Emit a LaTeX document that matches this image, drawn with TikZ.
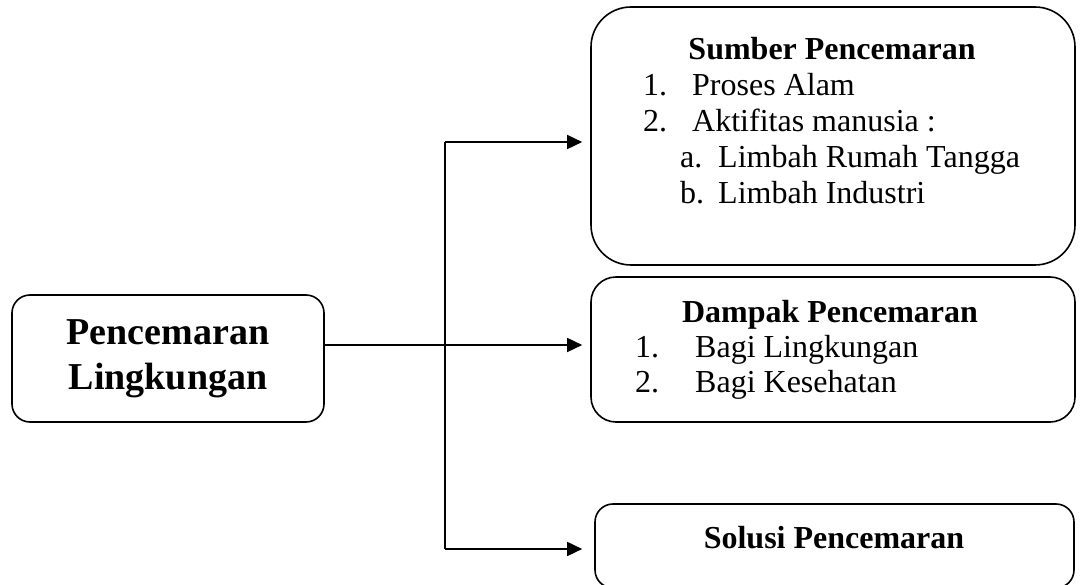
\documentclass[tikz,border=0pt]{standalone}
\usepackage{fontspec}
\setmainfont{Liberation Serif}
\usetikzlibrary{arrows.meta}
\begin{document}
\begin{tikzpicture}[x=1pt,y=-1pt,
  box/.style={draw, line width=1.6pt, inner sep=0pt},
  conn/.style={line width=1.6pt},
  arr/.style={line width=1.6pt, -{Triangle[length=15pt,width=14pt]}},
  txt/.style={inner sep=0pt, anchor=base west, font=\fontsize{32}{36}\selectfont},
  ttl/.style={inner sep=0pt, anchor=base, font=\fontsize{32}{36}\selectfont\bfseries}]
\useasboundingbox (0,0) rectangle (1080,585);
% boxes
\node[box, rounded corners=18pt, minimum width=312pt, minimum height=127pt,
      align=center, font=\fontsize{38}{45}\selectfont\bfseries] (L) at (168,358.5) {Pencemaran\\Lingkungan};
\node[box, rounded corners=40pt, minimum width=484pt, minimum height=258pt] (S) at (833,136) {};
\node[box, rounded corners=25pt, minimum width=484pt, minimum height=145pt] (D) at (833,349.5) {};
\node[box, rounded corners=18pt, minimum width=479pt, minimum height=84pt] (P) at (834.5,546) {};
% texts top
\node[ttl] (s0) at (832,60) {Sumber Pencemaran};
\node[txt] (s1n) at (643,96) {1.};
\node[txt] (s1) at (692,96) {Proses Alam};
\node[txt] (s2n) at (643,132) {2.};
\node[txt] (s2) at (692,132) {Aktifitas manusia :};
\node[txt] (s3n) at (680,168) {a.};
\node[txt] (s3) at (718,168) {Limbah Rumah Tangga};
\node[txt] (s4n) at (680,204) {b.};
\node[txt] (s4) at (718,204) {Limbah Industri};
% texts middle
\node[ttl] (d0) at (830,323) {Dampak Pencemaran};
\node[txt] (d1n) at (635,358) {1.};
\node[txt] (d1) at (695,358) {Bagi Lingkungan};
\node[txt] (d2n) at (635,393) {2.};
\node[txt] (d2) at (695,393) {Bagi Kesehatan};
% bottom
\node[ttl] (p0) at (834,548) {Solusi Pencemaran};
% connectors
\coordinate (jt) at (445,142);
\coordinate (jm) at (445,345);
\coordinate (jb) at (445,549);
\draw[conn] (jt) -- (jb);
\draw[arr] (L.east |- jm) -- ([xshift=-8pt]S.west |- jm);
\draw[arr] (jt) -- ([xshift=-8pt]S.west |- jt);
\draw[arr] (jb) -- ([xshift=-12pt]P.west |- jb);
\end{tikzpicture}
\end{document}
